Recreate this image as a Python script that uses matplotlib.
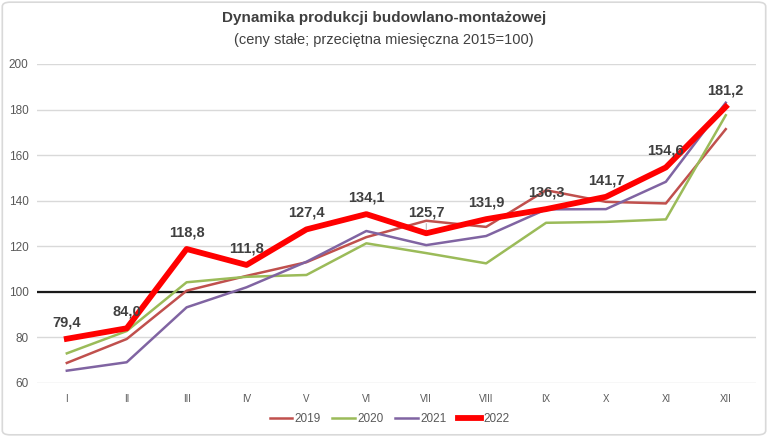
import matplotlib.pyplot as plt
from matplotlib.patches import FancyBboxPatch

plt.rcParams['font.family'] = ['Liberation Sans Narrow', 'Liberation Sans', 'DejaVu Sans']

# Data
months = ["I", "II", "III", "IV", "V", "VI", "VII", "VIII", "IX", "X", "XI", "XII"]
y2019 = [68.8, 79.3, 100.5, 107.0, 113.0, 124.0, 131.2, 128.5, 144.6, 139.5, 138.8, 171.4]
y2020 = [73.0, 82.8, 104.2, 106.6, 107.4, 121.3, 117.0, 112.5, 130.3, 130.7, 131.8, 177.5]
y2021 = [65.4, 69.1, 93.2, 102.0, 113.2, 126.7, 120.5, 124.5, 136.2, 136.3, 148.3, 183.0]
y2022 = [79.4, 84.0, 118.8, 111.8, 127.4, 134.1, 125.7, 131.9, 136.3, 141.7, 154.6, 181.2]
base = 100
yticks = [60, 80, 100, 120, 140, 160, 180, 200]

fig = plt.figure(figsize=(7.68, 4.37), dpi=100)
ax = fig.add_axes([0.048, 0.1236, 0.936, 0.730])

x = range(len(months))
ax.axhline(base, color="#1a1a1a", lw=1.6, zorder=2)
ax.plot(x, y2019, color="#C0504D", lw=1.8, label="2019", zorder=3)
ax.plot(x, y2020, color="#9BBB59", lw=1.8, label="2020", zorder=3)
ax.plot(x, y2021, color="#8064A2", lw=1.8, label="2021", zorder=3)
ax.plot(x, y2022, color="#FF0000", lw=4.2, label="2022", zorder=4)

for i, v in enumerate(y2022):
    dy = 15 if i == 6 else 12
    ax.annotate(f"{v:.1f}".replace(".", ","), (i, v), xytext=(0, dy),
                textcoords="offset points", ha="center", va="center",
                fontsize=10.5, fontweight="bold", color="#404040", zorder=5)
    if i == 6:
        ax.annotate("", (i, v), xytext=(0, 9), textcoords="offset points",
                    arrowprops=dict(arrowstyle="-", color="#a6a6a6", lw=0.6))

ax.set_xlim(-0.5, len(months) - 0.5)
ax.set_ylim(60, 200)
ax.set_yticks(yticks)
ax.set_xticks(list(x))
ax.set_xticklabels(months)
ax.grid(axis="y", color="#D9D9D9", lw=1)
ax.set_axisbelow(True)
for s in ax.spines.values():
    s.set_visible(False)
ax.tick_params(axis="y", length=0, labelsize=8.5, colors="#595959", pad=6)
ax.tick_params(axis="x", length=0, labelsize=7, colors="#595959", pad=8)

fig.text(0.5, 0.958, "Dynamika produkcji budowlano-montażowej", ha="center", va="center",
         fontsize=11, fontweight="bold", color="#404040")
fig.text(0.5, 0.908, "(ceny stałe; przeciętna miesięczna 2015=100)", ha="center", va="center",
         fontsize=10.5, color="#404040")

ax.legend(loc="center", bbox_to_anchor=(0.507, 0.041), bbox_transform=fig.transFigure,
          ncol=4, frameon=False, fontsize=8.5, handlelength=1.9, handletextpad=0.2,
          columnspacing=1.0, labelcolor="#595959")

fig.patches.append(FancyBboxPatch((0.003, 0.005), 0.994, 0.99, boxstyle="round,pad=0,rounding_size=0.01",
                                  transform=fig.transFigure, fill=False, edgecolor="#D9D9D9", lw=1.2))

fig.savefig("out.png", dpi=100)
